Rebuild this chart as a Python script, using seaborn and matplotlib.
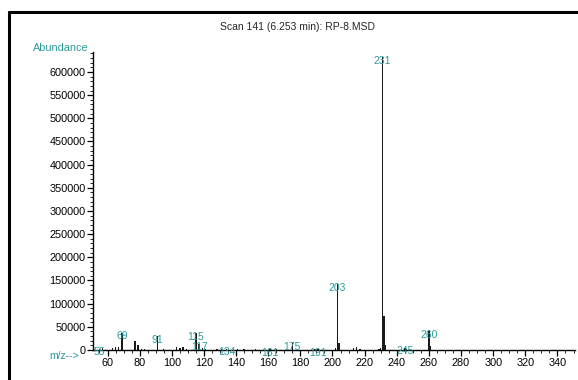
import matplotlib
matplotlib.use("Agg")
import matplotlib.pyplot as plt
from matplotlib.lines import Line2D
from matplotlib.ticker import MultipleLocator, FuncFormatter
import seaborn as sns
import pandas as pd

# Mass spectrum, scan 141
mz = [55, 57, 63, 65, 67, 69, 77, 79, 81, 83, 91, 95, 103, 105, 107, 109,
      115, 117, 119, 121, 128, 131, 134, 141, 145, 152, 161, 165, 175, 189,
      191, 202, 203, 204, 213, 215, 217, 229, 230, 231, 232, 233, 245, 246,
      260, 261]
abundance = [3000, 5000, 4000, 7000, 6000, 37000, 20000, 10000, 3000, 2500,
             30000, 3000, 7000, 5000, 6000, 3000, 36000, 13000, 5000, 3000,
             3000, 2000, 2500, 2000, 1500, 1500, 1500, 1500, 15000, 1500,
             1500, 4000, 142000, 15000, 5000, 6000, 3000, 2000, 4000, 632000,
             74000, 10000, 5000, 2000, 40000, 8000]
labeled_mz = [55, 69, 91, 115, 117, 134, 161, 175, 191, 203, 231, 245, 260]

title = "Scan 141 (6.253 min): RP-8.MSD"
teal = "#2b9a9a"

df = pd.DataFrame({"mz": mz, "abundance": abundance})

sns.set_style("ticks")
plt.rcParams["font.family"] = ["Liberation Sans", "DejaVu Sans"]

fig = plt.figure(figsize=(5.78, 3.80), dpi=100)
ax = fig.add_axes([0.161, 0.079, 0.995 - 0.161, 0.863 - 0.079])

sns.barplot(data=df, x="mz", y="abundance", native_scale=True, width=0.9,
            color="#1a1a1a", linewidth=0, saturation=1, ax=ax)

ax.set_xlim(51, 351)
ax.set_ylim(0, 643000)
ax.set_xlabel("")
ax.set_ylabel("")

ax.xaxis.set_major_locator(MultipleLocator(20))
ax.xaxis.set_minor_locator(MultipleLocator(5))
ax.yaxis.set_major_locator(MultipleLocator(50000))
ax.yaxis.set_minor_locator(MultipleLocator(10000))
ax.yaxis.set_major_formatter(FuncFormatter(lambda v, p: f"{int(v)}"))
ax.tick_params(axis="both", which="major", length=4, width=0.9,
               labelsize=7.8, pad=1.5, colors="black")
ax.tick_params(axis="both", which="minor", length=2.2, width=0.7)

sns.despine(ax=ax)
for side in ("left", "bottom"):
    ax.spines[side].set_linewidth(1.0)
    ax.spines[side].set_color("black")

# Peak labels at the top of each labelled line
for m, a in zip(mz, abundance):
    if m in labeled_mz:
        ax.annotate(str(m), xy=(m, a), xytext=(0, -2.5),
                    textcoords="offset points", ha="center", va="center",
                    fontsize=7.5, color=teal)

ax.text(-0.01, 1.0 + 4 / 298, "Abundance", transform=ax.transAxes,
        ha="right", va="center", fontsize=7.8, color=teal)
ax.text(-0.03, -6 / 298, "m/z-->", transform=ax.transAxes, ha="right",
        va="center", fontsize=7.5, color=teal)

fig.text(0.515, 0.928, title, ha="center", va="center", fontsize=7.5)

# Page frame lines (top and left)
fig.add_artist(Line2D([8.5 / 578, 1.0], [1 - 11.5 / 380, 1 - 11.5 / 380],
                      transform=fig.transFigure, color="black", lw=2.2))
fig.add_artist(Line2D([8.5 / 578, 8.5 / 578], [0.0, 1 - 11.5 / 380],
                      transform=fig.transFigure, color="black", lw=2.2))

fig.savefig("out.png", dpi=100)
